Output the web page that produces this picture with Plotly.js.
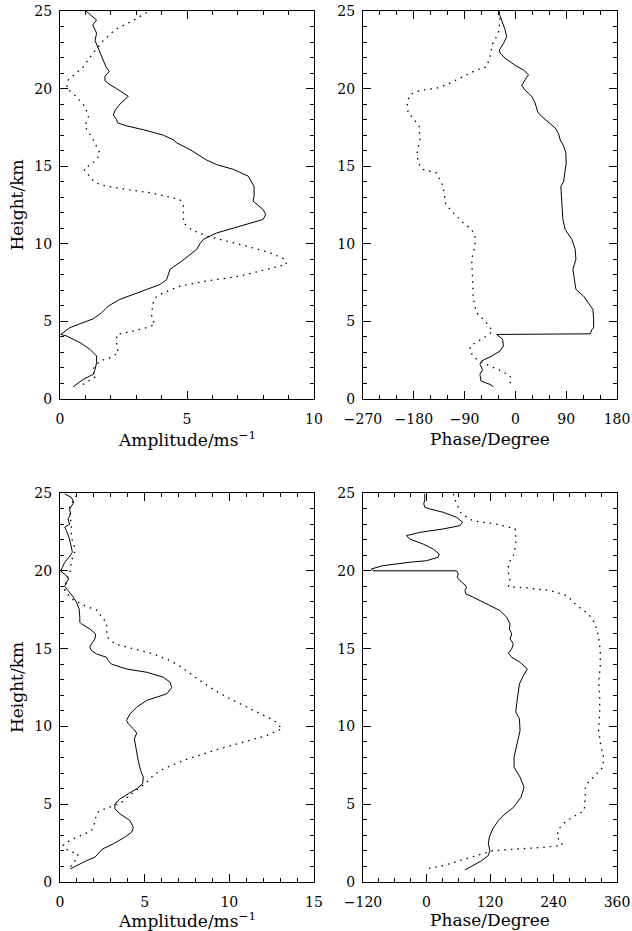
<!DOCTYPE html>
<html>
<head>
<meta charset="utf-8">
<script src="https://cdn.plot.ly/plotly-3.0.1.min.js"></script>
<style>html,body{margin:0;padding:0;background:#fff;}#chart{width:632px;height:931px;}</style>
</head>
<body>
<div id="chart"></div>
<script>
// ---- Panel 1: amplitude (top left) ----
const p1SolidH = [25,24.42,24.1,23.57,23.1,22.7,22.3,21.4,21.1,20.8,20.5,20.25,20.0,19.5,19.0,18.6,18.3,18.0,17.8,17.6,17.35,17.0,16.7,16.5,16.07,15.4,15.1,14.8,14.36,13.7,13.07,12.75,12.2,11.9,11.57,11.14,10.7,10.28,10.0,9.64,8.88,8.35,8.03,7.7,7.38,7.06,6.74,6.42,5.99,5.56,5.17,4.91,4.6,4.16,4.06,3.63,3.2,2.77,2.34,1.9,1.59,1.27,0.79];
const p1SolidX = [1.02,1.44,1.29,1.44,1.38,1.48,1.57,1.81,1.94,1.77,1.77,1.97,2.23,2.69,2.36,2.17,2.10,2.23,2.26,2.62,3.28,4.07,4.46,4.6,5.12,5.77,6.17,6.82,7.41,7.64,7.64,7.6,8.0,8.1,8.0,7.09,6.17,5.64,5.51,5.38,4.79,4.33,4.27,4.2,3.94,3.41,2.89,2.36,1.9,1.64,1.31,0.92,0.39,0.03,0.26,0.79,1.18,1.44,1.44,1.38,1.31,0.92,0.52];
const p1DotH = [24.9,24.4,23.8,23.1,22.3,21.4,20.56,20.03,19.5,18.85,18.2,17.57,16.7,15.85,15.4,14.8,14.1,13.8,13.5,13.29,12.86,12.43,12.0,11.35,10.9,10.5,10.17,9.85,9.42,9.0,8.67,8.35,7.92,7.6,7.27,6.85,6.52,6.2,5.56,5.24,4.8,4.6,4.38,4.16,3.84,3.41,2.98,2.66,2.45,2.12,1.8,1.48,1.16,0.88];
const p1DotX = [3.41,2.89,2.17,1.71,1.31,0.92,0.33,0.26,0.63,0.98,1.12,0.98,1.31,1.57,1.44,0.94,1.29,1.57,2.62,3.54,4.72,4.86,4.86,4.86,5.18,5.77,6.56,7.35,8.27,8.86,8.92,8.14,7.09,5.77,4.72,4.07,3.74,3.67,3.61,3.61,3.74,3.41,2.89,2.23,2.23,2.23,2.3,1.97,1.57,1.38,1.25,1.44,1.12,0.85];

// ---- Panel 2: phase (top right) ----
const p2SolidH = [25,24.4,23.8,23.35,22.9,22.5,22.3,21.96,21.5,21.2,20.9,20.57,20.2,19.9,19.5,19.07,18.5,18.3,18.0,17.46,17.1,16.7,16.3,15.86,15.2,14.57,14.0,13.7,12.86,12.0,11.57,10.92,10.28,9.64,9.0,8.35,7.7,7.06,6.63,6.2,5.77,5.13,4.6,4.48,4.2,4.16,4.06,3.84,3.41,3.09,2.77,2.45,2.23,1.9,1.59,1.16,0.94,0.79];
const p2SolidX = [-30.2,-24.3,-18.4,-15.4,-21.3,-28.4,-27.2,-18.4,-0.6,14.2,23.1,17.2,11.2,17.2,29.0,34.9,39.7,43.8,52.7,70.5,76.4,79.3,85.3,89.4,90.0,88.2,85.3,80.5,82.3,83.5,84.1,88.2,100.1,106.0,107.2,101.9,104.8,107.2,120.8,129.7,137.4,138.6,138.6,135.6,132.6,-33.2,-30.2,-22.5,-21.3,-27.2,-42.0,-59.8,-62.8,-58.0,-62.8,-61.0,-45.0,-39.1];
const p2DotH = [24.96,24.4,23.57,22.9,22.07,21.4,21.2,20.78,20.25,20.03,19.88,19.6,19.07,18.43,18.1,17.57,16.7,15.86,15.2,14.79,14.57,14.36,13.7,12.86,12.53,12.0,11.35,10.92,10.49,9.85,9.0,7.7,6.42,5.56,4.91,4.38,4.06,3.73,3.41,2.98,2.55,2.12,1.8,1.48,1.16,0.84];
const p2DotX = [-28.4,-27.2,-30.2,-40.3,-45.0,-50.9,-68.7,-92.4,-122.0,-139.7,-169.3,-187.1,-191.8,-190.1,-181.2,-170.5,-169.3,-174.1,-172.3,-163.4,-139.7,-136.8,-127.9,-124.9,-123.2,-110.1,-92.4,-77.6,-71.6,-71.6,-77.6,-75.8,-74.6,-68.7,-50.9,-40.3,-50.9,-65.7,-80.5,-78.8,-68.7,-45.0,-24.3,-9.5,-6.5,-15.4];

// ---- Panel 3: amplitude (bottom left) ----
const p3SolidH = [24.94,24.72,24.4,23.97,23.65,23.33,23.0,22.8,22.58,22.15,21.72,21.19,20.87,20.55,20.22,19.97,19.73,19.48,19.26,18.98,18.73,18.4,17.98,17.55,17.0,16.7,16.6,16.26,15.94,15.62,15.3,15.09,14.87,14.66,14.44,14.23,14.0,13.69,13.48,13.16,12.84,12.5,12.09,11.67,11.24,10.8,10.39,10.17,9.85,9.57,9.2,8.45,7.81,7.17,6.74,6.31,5.99,5.67,5.34,5.02,4.7,4.38,3.95,3.52,3.2,2.88,2.45,2.12,1.59,1.37,1.05,0.84];
const p3SolidX = [0.28,0.67,0.81,0.57,0.63,0.47,0.57,0.28,0.38,0.53,0.63,0.73,0.53,0.28,0.14,0.04,0.34,0.51,0.38,0.28,0.47,0.73,0.97,1.13,1.17,1.17,1.26,1.76,2.11,2.06,1.86,1.76,1.86,2.15,2.75,2.85,3.04,3.93,5.12,6.1,6.5,6.6,6.3,5.12,4.53,4.13,3.93,4.03,4.33,4.53,4.39,4.49,4.62,4.76,4.92,4.88,4.53,4.03,3.54,3.24,3.24,3.54,4.13,4.33,4.23,3.83,3.14,2.51,2.06,1.56,1.01,0.61];
const p3DotH = [24.83,24.5,24.08,23.44,22.8,22.15,21.5,21.19,20.65,20.0,19.37,18.73,18.2,17.76,17.44,17.0,16.7,16.16,15.73,15.3,14.98,14.66,14.23,13.8,13.16,12.5,11.87,11.03,10.39,9.85,9.42,8.99,8.45,7.81,7.27,6.85,6.31,5.67,5.13,4.81,4.59,4.38,3.84,3.3,2.98,2.66,2.34,2.02,1.8,1.48,1.2,0.9];
const p3DotX = [0.97,0.81,0.57,0.61,0.67,0.67,0.87,0.87,0.67,0.61,0.38,0.28,0.67,1.46,2.25,2.45,2.75,2.75,2.79,3.24,4.33,5.51,6.5,7.19,7.98,8.87,9.86,11.44,12.63,13.12,12.23,10.85,9.07,7.29,6.1,5.51,5.02,4.23,3.64,2.94,2.35,2.15,2.06,1.86,1.17,0.57,0.18,0.47,1.07,0.97,0.77,0.57];

// ---- Panel 4: phase (bottom right) ----
const p4SolidH = [24.94,24.6,24.3,24.08,23.97,23.76,23.44,23.12,22.9,22.69,22.47,22.26,22.04,21.72,21.4,21.08,20.87,20.65,20.55,20.33,20.12,20.0,20.0,19.8,19.58,19.37,19.15,18.94,18.73,18.51,18.3,17.87,17.44,17.01,16.58,16.26,15.94,15.62,15.3,14.98,14.7,14.44,14.12,13.69,13.27,12.73,12.1,11.46,10.92,10.49,9.74,8.88,8.03,7.38,6.74,6.09,5.45,4.79,4.38,3.95,3.41,2.88,2.45,2.02,1.7,1.37,1.05,0.77];
const p4SolidX = [-3.2,-3.2,-5.1,-3.2,6.3,31.6,56.8,68.2,63.2,31.6,-12.6,-37.9,-31.6,-6.3,12.6,24.0,22.1,0.0,-31.6,-82.1,-104.2,-101.1,56.8,60.0,58.1,63.2,70.7,75.8,72.6,74.5,88.4,113.7,139.0,151.6,157.9,156.6,161.1,157.9,164.2,161.1,154.7,161.1,176.8,190.7,183.2,175.6,173.7,170.5,168.6,175.6,176.8,171.8,165.5,165.5,176.8,184.4,178.7,164.2,148.4,135.8,125.1,118.7,116.8,120.0,116.8,104.2,88.4,72.6];
const p4DotH = [24.94,24.3,23.65,23.2,23.0,22.7,21.94,21.08,20.44,19.9,19.37,18.98,18.9,18.73,18.4,17.76,17.22,16.58,15.73,14.87,13.8,12.94,11.89,10.82,9.74,8.67,8.03,7.38,6.74,6.31,5.99,5.45,4.59,4.27,3.95,3.41,2.88,2.55,2.34,2.23,2.12,2.02,1.7,1.37,1.05,0.84];
const p4DotX = [50.5,56.8,66.3,88.4,132.6,167.4,169.3,165.5,154.7,154.7,157.9,154.7,189.5,233.7,265.3,284.2,306.3,319.0,325.3,328.4,328.4,325.3,327.2,327.2,325.3,329.7,334.7,333.5,315.8,303.2,300.0,300.0,298.1,281.1,265.3,249.5,246.3,255.8,255.8,221.1,170.5,126.3,94.7,63.2,31.6,0.0];

// ---- Axis text ----
const ampTitle = "Amplitude/ms<sup>−1</sup>";
const phaseTitle = "Phase/Degree";
const heightTitle = "Height/km";

const FONT = "DejaVu Serif, Liberation Serif, serif";
const solid = {color: "#000", width: 1};
const dotted = {color: "#000", width: 1.3, dash: "1.5px,5px"};

function tr(x, y, line, xa, ya) {
  return {x: x, y: y, xaxis: xa, yaxis: ya, type: "scatter", mode: "lines",
          line: line, hoverinfo: "skip", showlegend: false};
}

const data = [
  tr(p1SolidX, p1SolidH, solid, "x", "y"),
  tr(p1DotX, p1DotH, dotted, "x", "y"),
  tr(p2SolidX, p2SolidH, solid, "x2", "y2"),
  tr(p2DotX, p2DotH, dotted, "x2", "y2"),
  tr(p3SolidX, p3SolidH, solid, "x3", "y3"),
  tr(p3DotX, p3DotH, dotted, "x3", "y3"),
  tr(p4SolidX, p4SolidH, solid, "x4", "y4"),
  tr(p4DotX, p4DotH, dotted, "x4", "y4")
];

function xax(domain, anchor, range, dtick, minor) {
  return {
    domain: domain, anchor: anchor, range: range, dtick: dtick, tick0: 0,
    showline: true, linecolor: "#000", linewidth: 1, mirror: "ticks",
    ticks: "inside", ticklen: 8, tickcolor: "#000", tickwidth: 1,
    minor: {dtick: minor, ticks: "inside", ticklen: 4, tickcolor: "#000", tickwidth: 1, showgrid: false},
    showgrid: false, zeroline: false, fixedrange: true,
    ticklabelstandoff: 7,
    tickfont: {family: FONT, size: 14, color: "#000"}
  };
}
function yax(domain, anchor, title) {
  const ax = {
    domain: domain, anchor: anchor, range: [0, 25], dtick: 5, tick0: 0,
    showline: true, linecolor: "#000", linewidth: 1, mirror: "ticks",
    ticks: "inside", ticklen: 8, tickcolor: "#000", tickwidth: 1,
    minor: {dtick: 1, ticks: "inside", ticklen: 4, tickcolor: "#000", tickwidth: 1, showgrid: false},
    showgrid: false, zeroline: false, fixedrange: true,
    ticklabelstandoff: 4,
    tickfont: {family: FONT, size: 14, color: "#000"}
  };
  if (title) ax.title = {text: title, font: {family: FONT, size: 17, color: "#000"}, standoff: 6};
  return ax;
}

// plot area: left 60, right 617, top 11, bottom 882
const W = 557, H = 871;
const dxL = [0, 254 / W], dxR = [303 / W, 1];
const dyT = [(882 - 399) / H, 1], dyB = [0, (882 - 493) / H];

function xTitle(text, xref, ypx) {
  return {text: text, xref: xref, x: 0.5, yref: "paper", y: (882 - ypx) / H,
          xanchor: "center", yanchor: "middle", showarrow: false,
          font: {family: FONT, size: 17, color: "#000"}};
}

const layout = {
  width: 632, height: 931,
  margin: {l: 60, r: 15, t: 11, b: 49},
  paper_bgcolor: "#fff", plot_bgcolor: "#fff",
  font: {family: FONT, color: "#000"},
  xaxis: xax(dxL, "y", [0, 10], 5, 1),
  yaxis: yax(dyT, "x", heightTitle),
  xaxis2: xax(dxR, "y2", [-270, 180], 90, 30),
  yaxis2: yax(dyT, "x2", ""),
  xaxis3: xax(dxL, "y3", [0, 15], 5, 1),
  yaxis3: yax(dyB, "x3", heightTitle),
  xaxis4: xax(dxR, "y4", [-120, 360], 120, 30),
  yaxis4: yax(dyB, "x4", ""),
  annotations: [
    xTitle(ampTitle, "x domain", 439),
    xTitle(phaseTitle, "x2 domain", 439),
    xTitle(ampTitle, "x3 domain", 920),
    xTitle(phaseTitle, "x4 domain", 920)
  ]
};

Plotly.newPlot("chart", data, layout, {staticPlot: true, displayModeBar: false});
</script>
</body>
</html>
